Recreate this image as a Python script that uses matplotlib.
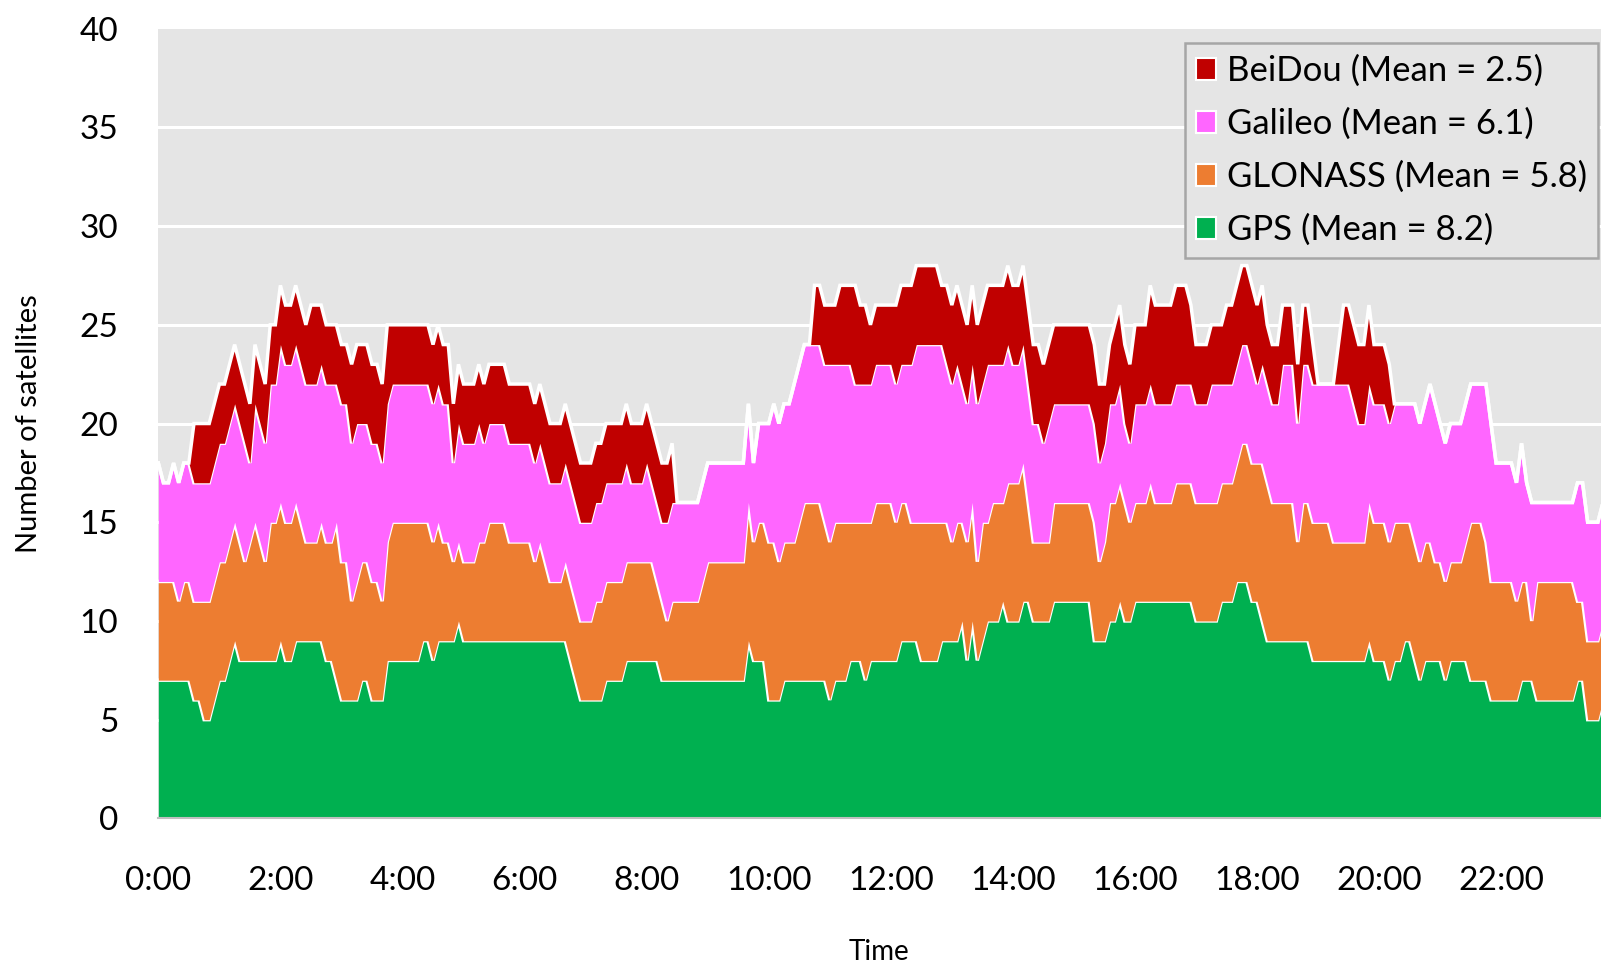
import numpy as np
import matplotlib.pyplot as plt
from matplotlib.patches import Patch

plt.rcParams['font.family'] = ['Lato', 'DejaVu Sans']

# time step of the samples (minutes)
step_min = 5

# stacked levels (top of each layer), one value per 5 minutes
gps_top = [
    7, 7, 7, 7, 7, 7, 7, 6, 6, 5, 5, 6, 7, 7, 8, 9, 8, 8, 8, 8,
    8, 8, 8, 8, 9, 8, 8, 9, 9, 9, 9, 9, 9, 8, 8, 7, 6, 6, 6, 6,
    7, 7, 6, 6, 6, 8, 8, 8, 8, 8, 8, 8, 9, 9, 8, 9, 9, 9, 9, 10,
    9, 9, 9, 9, 9, 9, 9, 9, 9, 9, 9, 9, 9, 9, 9, 9, 9, 9, 9, 9,
    9, 8, 7, 6, 6, 6, 6, 6, 7, 7, 7, 7, 8, 8, 8, 8, 8, 8, 8, 7,
    7, 7, 7, 7, 7, 7, 7, 7, 7, 7, 7, 7, 7, 7, 7, 7, 9, 8, 8, 8,
    6, 6, 6, 7, 7, 7, 7, 7, 7, 7, 7, 7, 6, 7, 7, 7, 8, 8, 8, 7,
    8, 8, 8, 8, 8, 8, 9, 9, 9, 9, 8, 8, 8, 8, 9, 9, 9, 9, 10, 8,
    10, 8, 9, 10, 10, 10, 11, 10, 10, 10, 11, 11, 10, 10, 10, 10, 11, 11, 11, 11,
    11, 11, 11, 11, 9, 9, 9, 10, 10, 11, 10, 10, 11, 11, 11, 11, 11, 11, 11, 11,
    11, 11, 11, 11, 10, 10, 10, 10, 10, 11, 11, 11, 12, 12, 12, 11, 11, 10, 9, 9,
    9, 9, 9, 9, 9, 9, 9, 8, 8, 8, 8, 8, 8, 8, 8, 8, 8, 8, 9, 8,
    8, 8, 7, 8, 8, 9, 9, 8, 7, 8, 8, 8, 8, 7, 8, 8, 8, 8, 7, 7,
    7, 7, 6, 6, 6, 6, 6, 6, 7, 7, 7, 6, 6, 6, 6, 6, 6, 6, 6, 7,
    7, 5, 5, 5, 6,
]
glonass_top = [
    12, 12, 12, 12, 11, 12, 12, 11, 11, 11, 11, 12, 13, 13, 14, 15, 14, 13, 14, 15,
    14, 13, 15, 15, 16, 15, 15, 16, 15, 14, 14, 14, 15, 14, 14, 15, 13, 13, 11, 12,
    13, 13, 12, 12, 11, 14, 15, 15, 15, 15, 15, 15, 15, 15, 14, 15, 14, 14, 13, 14,
    13, 13, 13, 14, 14, 15, 15, 15, 15, 14, 14, 14, 14, 14, 13, 14, 13, 12, 12, 12,
    13, 12, 11, 10, 10, 10, 11, 11, 12, 12, 12, 12, 13, 13, 13, 13, 13, 13, 12, 11,
    10, 11, 11, 11, 11, 11, 11, 12, 13, 13, 13, 13, 13, 13, 13, 13, 16, 14, 15, 15,
    14, 14, 13, 14, 14, 14, 15, 16, 16, 16, 16, 15, 14, 15, 15, 15, 15, 15, 15, 15,
    15, 16, 16, 16, 16, 15, 16, 16, 15, 15, 15, 15, 15, 15, 15, 15, 14, 15, 15, 14,
    16, 13, 15, 15, 16, 16, 16, 17, 17, 17, 18, 16, 14, 14, 14, 14, 16, 16, 16, 16,
    16, 16, 16, 16, 15, 13, 14, 16, 16, 17, 16, 15, 16, 16, 16, 17, 16, 16, 16, 16,
    17, 17, 17, 17, 16, 16, 16, 16, 16, 17, 17, 17, 18, 19, 19, 18, 18, 18, 17, 16,
    16, 16, 16, 16, 14, 16, 16, 15, 15, 15, 15, 14, 14, 14, 14, 14, 14, 14, 16, 15,
    15, 15, 14, 15, 15, 15, 15, 14, 13, 14, 14, 13, 13, 12, 13, 13, 13, 14, 15, 15,
    15, 14, 12, 12, 12, 12, 12, 11, 12, 12, 10, 12, 12, 12, 12, 12, 12, 12, 12, 11,
    11, 9, 9, 9, 10,
]
galileo_top = [
    18, 17, 17, 18, 17, 18, 18, 17, 17, 17, 17, 18, 19, 19, 20, 21, 20, 19, 18, 21,
    20, 19, 22, 22, 24, 23, 23, 24, 23, 22, 22, 22, 23, 22, 22, 22, 21, 21, 19, 20,
    20, 20, 19, 19, 18, 21, 22, 22, 22, 22, 22, 22, 22, 22, 21, 22, 21, 21, 18, 20,
    19, 19, 19, 20, 19, 20, 20, 20, 20, 19, 19, 19, 19, 19, 18, 19, 18, 17, 17, 17,
    18, 17, 16, 15, 15, 15, 16, 16, 17, 17, 17, 17, 18, 17, 17, 17, 18, 17, 16, 15,
    15, 16, 16, 16, 16, 16, 16, 17, 18, 18, 18, 18, 18, 18, 18, 18, 21, 18, 20, 20,
    20, 21, 20, 21, 21, 22, 23, 24, 24, 24, 24, 23, 23, 23, 23, 23, 23, 22, 22, 22,
    22, 23, 23, 23, 23, 22, 23, 23, 23, 24, 24, 24, 24, 24, 24, 23, 22, 23, 22, 21,
    23, 21, 22, 23, 23, 23, 23, 24, 23, 23, 24, 22, 20, 20, 19, 20, 21, 21, 21, 21,
    21, 21, 21, 21, 20, 18, 19, 21, 21, 22, 20, 19, 21, 21, 21, 22, 21, 21, 21, 21,
    22, 22, 22, 22, 21, 21, 21, 22, 22, 22, 22, 22, 23, 24, 24, 23, 22, 23, 22, 21,
    21, 23, 23, 23, 20, 23, 23, 22, 22, 22, 22, 22, 22, 22, 22, 21, 20, 20, 22, 21,
    21, 21, 20, 21, 21, 21, 21, 21, 20, 21, 22, 21, 20, 19, 20, 20, 20, 21, 22, 22,
    22, 22, 20, 18, 18, 18, 18, 17, 19, 17, 16, 16, 16, 16, 16, 16, 16, 16, 16, 17,
    17, 15, 15, 15, 16,
]
beidou_top = [
    18, 17, 17, 18, 17, 18, 18, 20, 20, 20, 20, 21, 22, 22, 23, 24, 23, 22, 21, 24,
    23, 22, 25, 25, 27, 26, 26, 27, 26, 25, 26, 26, 26, 25, 25, 25, 24, 24, 23, 24,
    24, 24, 23, 23, 22, 25, 25, 25, 25, 25, 25, 25, 25, 25, 24, 25, 24, 24, 21, 23,
    22, 22, 22, 23, 22, 23, 23, 23, 23, 22, 22, 22, 22, 22, 21, 22, 21, 20, 20, 20,
    21, 20, 19, 18, 18, 18, 19, 19, 20, 20, 20, 20, 21, 20, 20, 20, 21, 20, 19, 18,
    18, 19, 16, 16, 16, 16, 16, 17, 18, 18, 18, 18, 18, 18, 18, 18, 21, 18, 20, 20,
    20, 21, 20, 21, 21, 22, 23, 24, 24, 27, 27, 26, 26, 26, 27, 27, 27, 27, 26, 26,
    25, 26, 26, 26, 26, 26, 27, 27, 27, 28, 28, 28, 28, 28, 27, 27, 26, 27, 26, 25,
    27, 25, 26, 27, 27, 27, 27, 28, 27, 27, 28, 26, 24, 24, 23, 24, 25, 25, 25, 25,
    25, 25, 25, 25, 24, 22, 22, 24, 25, 26, 24, 23, 25, 25, 25, 27, 26, 26, 26, 26,
    27, 27, 27, 26, 24, 24, 24, 25, 25, 25, 26, 26, 27, 28, 28, 27, 26, 27, 25, 24,
    24, 26, 26, 26, 23, 26, 26, 24, 22, 22, 22, 22, 24, 26, 26, 25, 24, 24, 26, 24,
    24, 24, 23, 21, 21, 21, 21, 21, 20, 21, 22, 21, 20, 19, 20, 20, 20, 21, 22, 22,
    22, 22, 20, 18, 18, 18, 18, 17, 19, 17, 16, 16, 16, 16, 16, 16, 16, 16, 16, 17,
    17, 15, 15, 15, 16,
]

labels = ['GPS (Mean = 8.2)', 'GLONASS (Mean = 5.8)',
          'Galileo (Mean = 6.1)', 'BeiDou (Mean = 2.5)']
colors = ['#00B050', '#ED7D31', '#FF66FF', '#C00000']
hour_ticks = [0, 2, 4, 6, 8, 10, 12, 14, 16, 18, 20, 22]
hour_labels = ['0:00', '2:00', '4:00', '6:00', '8:00', '10:00',
               '12:00', '14:00', '16:00', '18:00', '20:00', '22:00']

hours = np.arange(len(gps_top)) * step_min / 60.0
levels = [np.zeros(len(gps_top)), np.array(gps_top), np.array(glonass_top),
          np.array(galileo_top), np.array(beidou_top)]

fig = plt.figure(figsize=(16.01, 9.63), dpi=100)
ax = fig.add_axes([0.0989, 0.1502, 0.9011, 0.8200])
ax.set_facecolor('#E5E5E5')

# grid lines first, areas on top
for yv in range(5, 40, 5):
    ax.axhline(yv, color='white', lw=2.2, zorder=1)

for i in range(4):
    ax.fill_between(hours, levels[i], levels[i + 1], color=colors[i],
                    lw=0, zorder=2 + i)
    ax.plot(hours, levels[i + 1], color='white', lw=2.5, zorder=2.5 + i,
            solid_joinstyle='miter')

ax.set_xlim(0, 23.635)
ax.set_ylim(0, 40)
ax.set_xticks(hour_ticks)
ax.set_xticklabels(hour_labels)
ax.set_yticks(range(0, 41, 5))
ax.tick_params(axis='both', length=0, labelsize=24)
ax.tick_params(axis='y', pad=29)
ax.tick_params(axis='x', pad=34.5)

for s in ['top', 'right', 'left']:
    ax.spines[s].set_visible(False)
ax.spines['bottom'].set_color('#BFBFBF')
ax.spines['bottom'].set_linewidth(1.5)
ax.spines['bottom'].set_zorder(10)

fig.text(0.0179, 1 - 424 / 963, 'Number of satellites', rotation=90,
         ha='center', va='center', fontsize=21)
fig.text(879 / 1601, 3.5 / 963, 'Time', ha='center', va='baseline', fontsize=20)

handles = [Patch(facecolor=colors[i], edgecolor='white', lw=1.5, label=labels[i])
           for i in [3, 2, 1, 0]]
leg = ax.legend(handles=handles, loc='upper right',
                bbox_to_anchor=(1598.3 / 1601, 1 - 43.3 / 963),
                bbox_transform=fig.transFigure, borderaxespad=0,
                fontsize=25, frameon=True, fancybox=False,
                facecolor='#E5E5E5', edgecolor='#A6A6A6', framealpha=1,
                handlelength=0.58, handleheight=0.58, handletextpad=0.3,
                labelspacing=0.6, borderpad=0.33)
leg.get_frame().set_linewidth(1.8)
leg.set_zorder(20)

fig.savefig('out.png', dpi=100)
